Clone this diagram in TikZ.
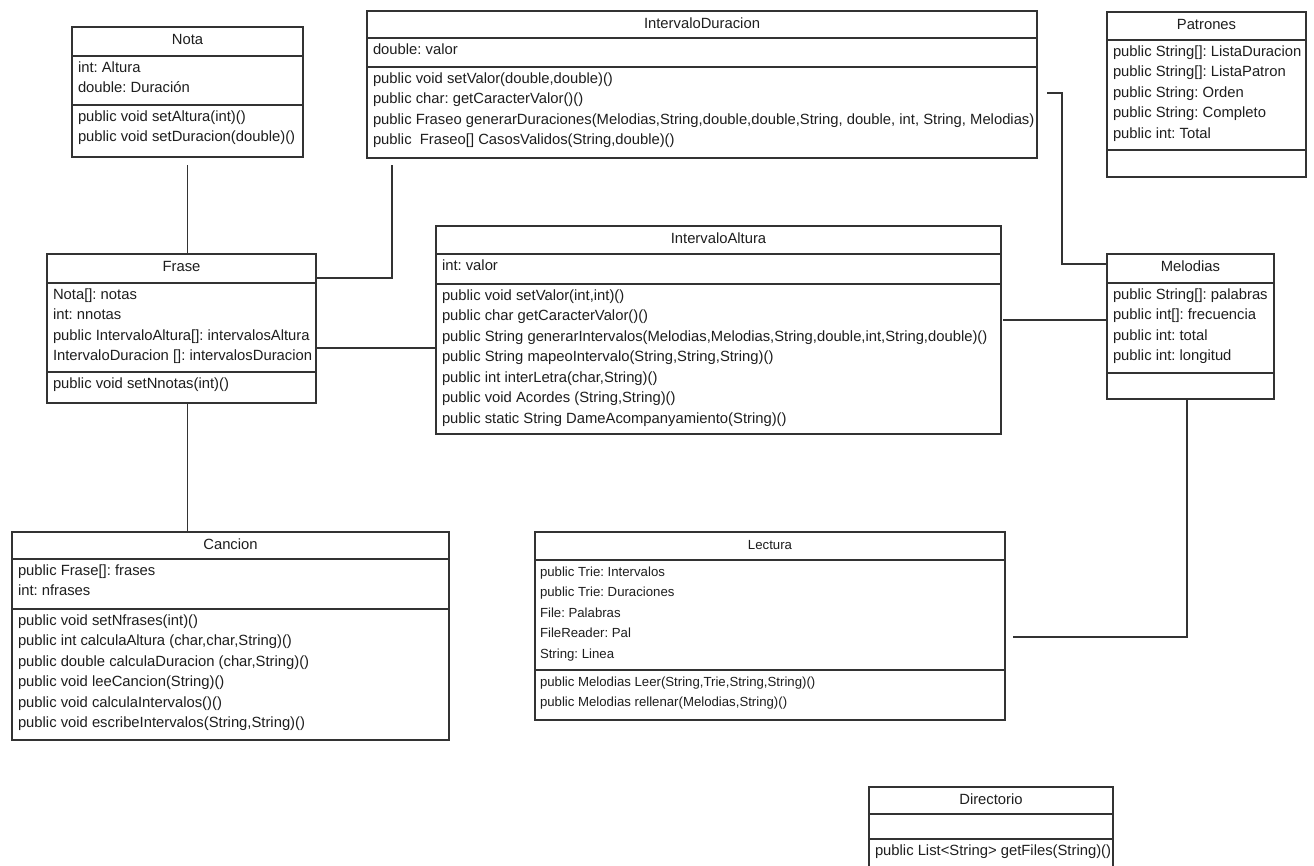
\documentclass[tikz,border=0pt]{standalone}
\usepackage{fontspec}
\setmainfont{Liberation Sans}
\definecolor{ln}{HTML}{333333}
\definecolor{tx}{HTML}{1E1E1E}
\tikzset{
  box/.style={draw=ln, line width=1.4pt, fill=white, inner sep=0pt, outer sep=0pt, anchor=north west},
  div/.style={draw=ln, line width=1.4pt},
  conn/.style={draw=ln, line width=1.3pt},
  txt/.style={text=tx, inner sep=0pt, outer sep=0pt, font=\frenchspacing\fontsize{14.8}{18}\selectfont, anchor=base west},
  ttl/.style={txt, anchor=base},
  smalltxt/.style={txt, font=\frenchspacing\fontsize{13.2}{16}\selectfont},
}
% name, x, y, w, h, divider1 y, divider2 y
\newcommand\umlbox[7]{%
  \node[box, minimum width=#4pt, minimum height=#5pt] (#1) at (#2,#3) {};
  \draw[div] (#2,#6) -- ++(#4,0);
  \draw[div] (#2,#7) -- ++(#4,0);}
% name, text
\newcommand\umltitle[2]{\node[ttl] (#1-t) at ([yshift=-17.5pt]#1.north) {#2};}
% node name, x, baseline y, text
\newcommand\ut[4]{\node[txt] (#1) at (#2,#3) {#4};}
\newcommand\us[4]{\node[smalltxt] (#1) at (#2,#3) {#4};}

\begin{document}
\frenchspacing
\begin{tikzpicture}[x=1pt,y=-1pt]
\useasboundingbox (0,0) rectangle (1314,865);
\clip (0,0) rectangle (1314,865);
\fill[white] (0,0) rectangle (1314,865);

% ---------- Nota ----------
\umlbox{nota}{72}{27}{231}{130}{56}{105}
\umltitle{nota}{Nota}
\ut{nota-a1}{78}{72}{int: Altura}
\ut{nota-a2}{78}{92.5}{double: Duración}
\ut{nota-m1}{78}{121}{public void setAltura(int)()}
\ut{nota-m2}{78}{141.5}{public void setDuracion(double)()}

% ---------- IntervaloDuracion ----------
\umlbox{idur}{367}{11}{670}{147}{38}{67}
\umltitle{idur}{IntervaloDuracion}
\ut{idur-a1}{373}{54}{double: valor}
\ut{idur-m1}{373}{83}{public void setValor(double,double)()}
\ut{idur-m2}{373}{103.5}{public char: getCaracterValor()()}
\ut{idur-m3}{373}{124}{public Fraseo generarDuraciones(Melodias,String,double,double,String, double, int, String, Melodias)}
\ut{idur-m4}{373}{144.5}{public\ \ Fraseo[] CasosValidos(String,double)()}

% ---------- Patrones ----------
\umlbox{patr}{1107}{12}{199}{165}{40}{150}
\umltitle{patr}{Patrones}
\ut{patr-a1}{1113}{56}{public String[]: ListaDuracion}
\ut{patr-a2}{1113}{76.5}{public String[]: ListaPatron}
\ut{patr-a3}{1113}{97}{public String: Orden}
\ut{patr-a4}{1113}{117.5}{public String: Completo}
\ut{patr-a5}{1113}{138}{public int: Total}

% ---------- Frase ----------
\umlbox{frase}{47}{254}{269}{149}{283}{372}
\umltitle{frase}{Frase}
\ut{frase-a1}{53}{299}{Nota[]: notas}
\ut{frase-a2}{53}{319.5}{int: nnotas}
\ut{frase-a3}{53}{340}{public IntervaloAltura[]: intervalosAltura}
\ut{frase-a4}{53}{360.5}{IntervaloDuracion []: intervalosDuracion}
\ut{frase-m1}{53}{388}{public void setNnotas(int)()}

% ---------- IntervaloAltura ----------
\umlbox{ialt}{436}{226}{565}{208}{254}{284}
\umltitle{ialt}{IntervaloAltura}
\ut{ialt-a1}{442}{270}{int: valor}
\ut{ialt-m1}{442}{300}{public void setValor(int,int)()}
\ut{ialt-m2}{442}{320.5}{public char getCaracterValor()()}
\ut{ialt-m3}{442}{341}{public String generarIntervalos(Melodias,Melodias,String,double,int,String,double)()}
\ut{ialt-m4}{442}{361.5}{public String mapeoIntervalo(String,String,String)()}
\ut{ialt-m5}{442}{382}{public int interLetra(char,String)()}
\ut{ialt-m6}{442}{402.5}{public void Acordes (String,String)()}
\ut{ialt-m7}{442}{423}{public static String DameAcompanyamiento(String)()}

% ---------- Melodias ----------
\umlbox{melo}{1107}{254}{167}{145}{283}{373}
\umltitle{melo}{Melodias}
\ut{melo-a1}{1113}{299}{public String[]: palabras}
\ut{melo-a2}{1113}{319.5}{public int[]: frecuencia}
\ut{melo-a3}{1113}{340}{public int: total}
\ut{melo-a4}{1113}{360.5}{public int: longitud}

% ---------- Cancion ----------
\umlbox{canc}{12}{532}{437}{208}{559}{609}
\umltitle{canc}{Cancion}
\ut{canc-a1}{18}{575}{public Frase[]: frases}
\ut{canc-a2}{18}{595.5}{int: nfrases}
\ut{canc-m1}{18}{625}{public void setNfrases(int)()}
\ut{canc-m2}{18}{645.5}{public int calculaAltura (char,char,String)()}
\ut{canc-m3}{18}{666}{public double calculaDuracion (char,String)()}
\ut{canc-m4}{18}{686.5}{public void leeCancion(String)()}
\ut{canc-m5}{18}{707}{public void calculaIntervalos()()}
\ut{canc-m6}{18}{727.5}{public void escribeIntervalos(String,String)()}

% ---------- Lectura ----------
\umlbox{lect}{535}{532}{470}{188}{560}{670}
\node[smalltxt, anchor=base] (lect-t) at ([yshift=-17.5pt]lect.north) {Lectura};
\us{lect-a1}{540}{576}{public Trie: Intervalos}
\us{lect-a2}{540}{596.5}{public Trie: Duraciones}
\us{lect-a3}{540}{617}{File: Palabras}
\us{lect-a4}{540}{637.5}{FileReader: Pal}
\us{lect-a5}{540}{658}{String: Linea}
\us{lect-m1}{540}{686}{public Melodias Leer(String,Trie,String,String)()}
\us{lect-m2}{540}{706.5}{public Melodias rellenar(Melodias,String)()}

% ---------- Directorio ----------
\umlbox{dire}{869}{787}{244}{100}{814}{839}
\umltitle{dire}{Directorio}
\ut{dire-m1}{875}{855}{public List<String> getFiles(String)()}

% ---------- connectors ----------
% Nota -- Frase
\draw[conn] ([yshift=-8pt]nota.south) -- (nota.south |- frase.north);
% Frase -- Cancion
\draw[conn] (nota.south |- frase.south) -- (nota.south |- canc.north);
% IntervaloDuracion -- Frase
\draw[conn] ([xshift=25pt,yshift=-7pt]idur.south west) |- ([yshift=-24pt]frase.north east);
% Frase -- IntervaloAltura
\draw[conn] ([yshift=-94pt]frase.north east) -- ([yshift=-94pt]frase.north east -| ialt.west);
% IntervaloAltura -- Melodias
\draw[conn, shorten >=2pt] ([yshift=-66pt]melo.north west) -- ([yshift=-66pt]melo.north west -| ialt.east);
% IntervaloDuracion -- Melodias
\draw[conn] ([xshift=10pt,yshift=-82pt]idur.north east) -- ++(15,0) |- ([yshift=-10pt]melo.north west);
% Melodias -- Lectura
\draw[conn] ([xshift=80pt]melo.south west) |- ([xshift=8pt,yshift=-105pt]lect.north east);
\end{tikzpicture}
\end{document}
